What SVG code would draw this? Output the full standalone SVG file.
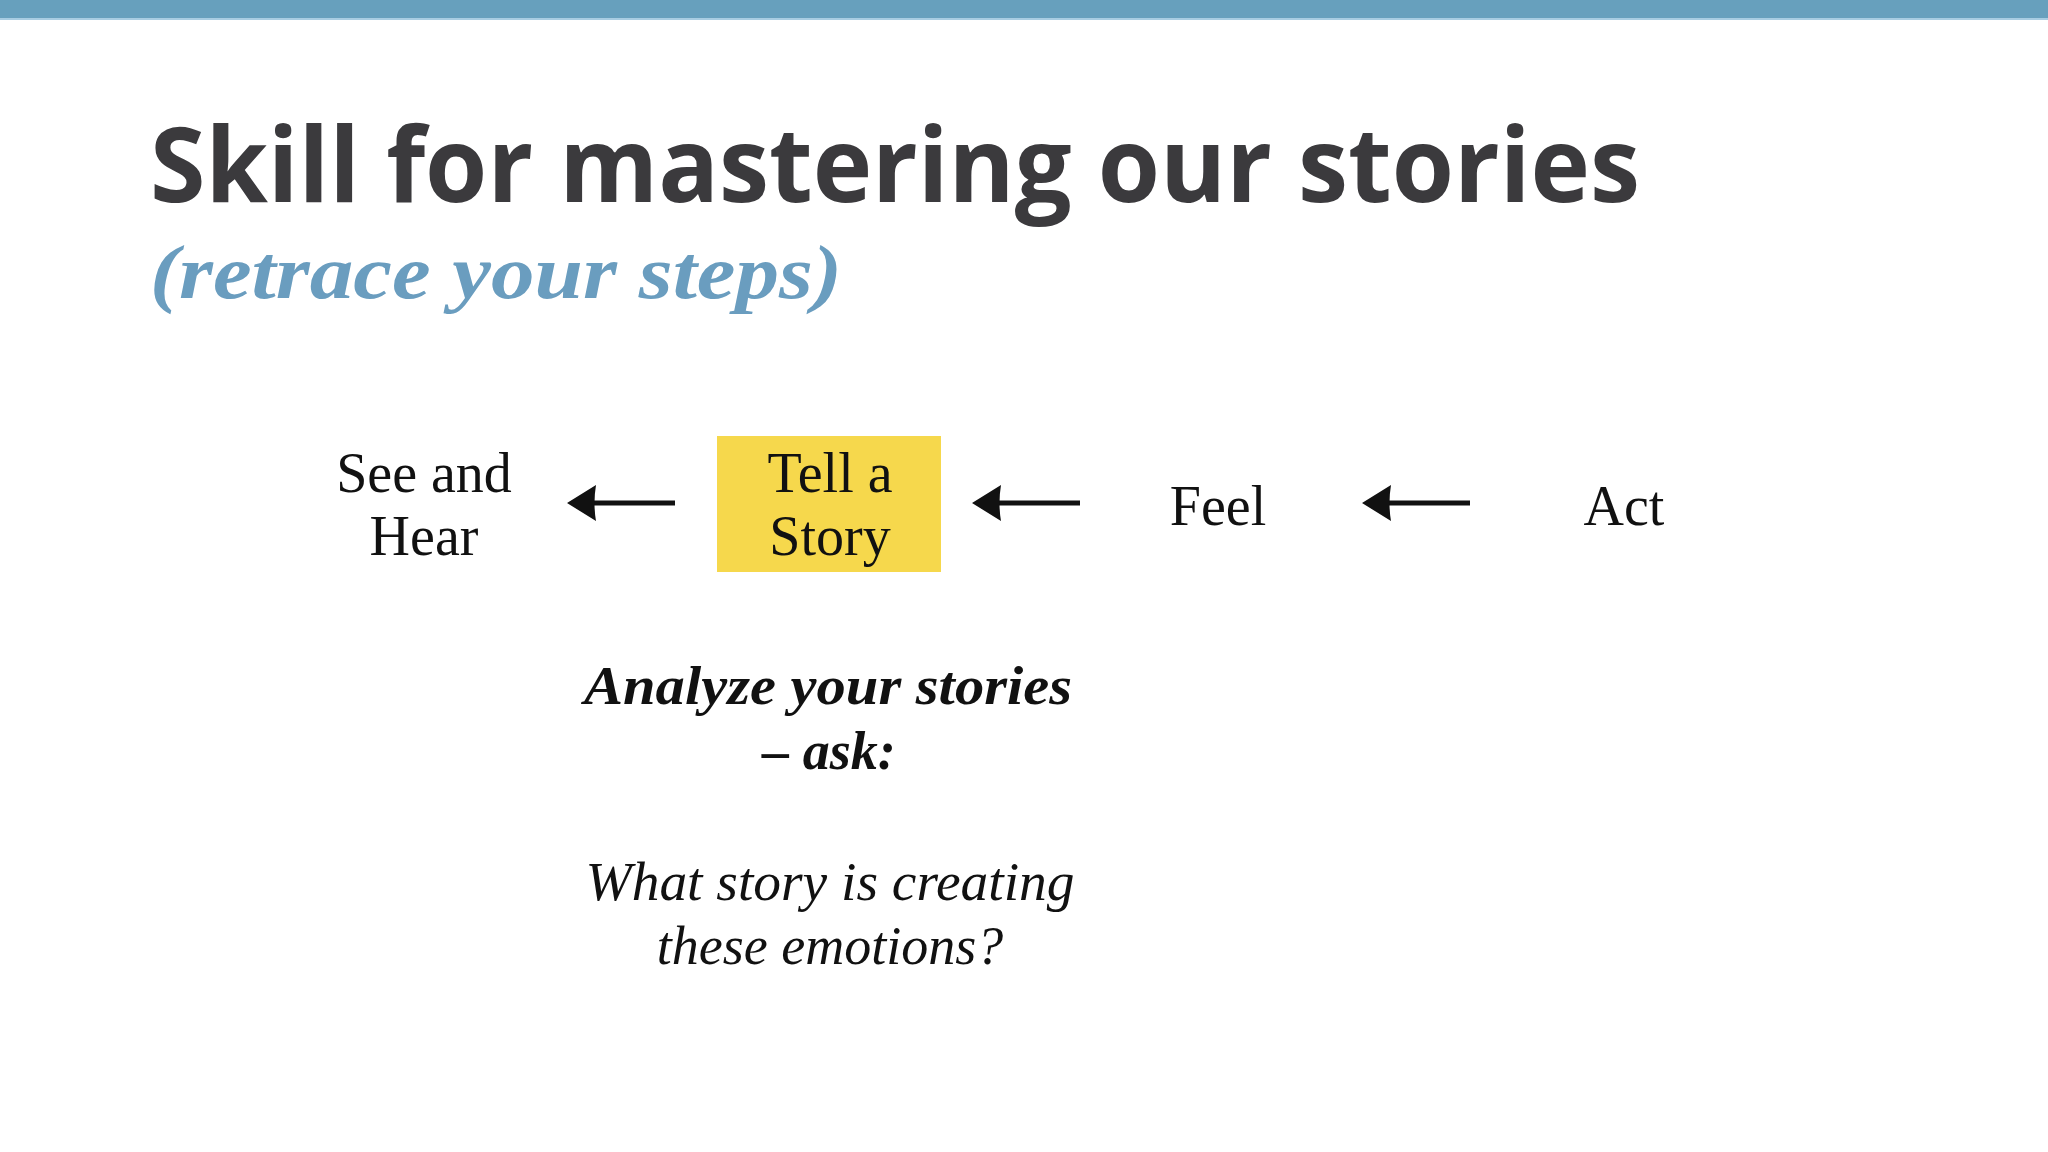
<svg xmlns="http://www.w3.org/2000/svg" width="2048" height="1152" viewBox="0 0 2048 1152">
<style>
.title{font-family:"Open Sans","Liberation Sans",sans-serif;font-weight:700;font-size:104px;fill:#3b3a3d}
.sub{font-family:"Liberation Serif",serif;font-style:italic;font-weight:700;font-size:76px;fill:#6a9dbf}
.lbl{font-family:"Liberation Serif",serif;font-size:56px;fill:#111;text-anchor:middle}
.bi{font-family:"Liberation Serif",serif;font-style:italic;font-weight:700;font-size:54px;fill:#111;text-anchor:middle}
.it{font-family:"Liberation Serif",serif;font-style:italic;font-size:54px;fill:#111;text-anchor:middle}
.shaft{stroke:#111;stroke-width:5;fill:none;marker-end:url(#head)}
</style>
<defs>
<marker id="head" viewBox="0 0 32 38" refX="7" refY="19" markerWidth="32" markerHeight="38" markerUnits="userSpaceOnUse" orient="auto">
<path d="M1,1 L30,19 L1,37 Q4,19 1,1 Z" fill="#111"/>
</marker>
</defs>
<rect x="0" y="0" width="2048" height="1152" fill="#ffffff"/>
<rect x="0" y="0" width="2048" height="18" fill="#67a0bd"/>
<rect x="0" y="18" width="2048" height="2" fill="#a8cde2"/>
<text class="title" x="150" y="202" textLength="1490" lengthAdjust="spacingAndGlyphs">Skill for mastering our stories</text>
<text class="sub" x="150" y="298" textLength="692" lengthAdjust="spacingAndGlyphs">(retrace your steps)</text>
<g id="see-and-hear">
<text class="lbl" x="424" y="492">See and</text>
<text class="lbl" x="424" y="555">Hear</text>
</g>
<g id="tell-a-story">
<rect x="717" y="436" width="224" height="136" fill="#f6d84c"/>
<text class="lbl" x="830" y="492">Tell a</text>
<text class="lbl" x="830" y="555">Story</text>
</g>
<g id="feel">
<text class="lbl" x="1218" y="525">Feel</text>
</g>
<g id="act">
<text class="lbl" x="1624" y="525">Act</text>
</g>
<g id="connectors">
<path class="shaft" d="M675,503 L590,503"/>
<path class="shaft" d="M1080,503 L995,503"/>
<path class="shaft" d="M1470,503 L1385,503"/>
</g>
<g id="analyze-note">
<text class="bi" x="828" y="704" textLength="488" lengthAdjust="spacingAndGlyphs">Analyze your stories</text>
<text class="bi" x="829" y="769">– ask:</text>
<text class="it" x="830" y="900" textLength="489" lengthAdjust="spacingAndGlyphs">What story is creating</text>
<text class="it" x="830" y="964">these emotions?</text>
</g>
</svg>
